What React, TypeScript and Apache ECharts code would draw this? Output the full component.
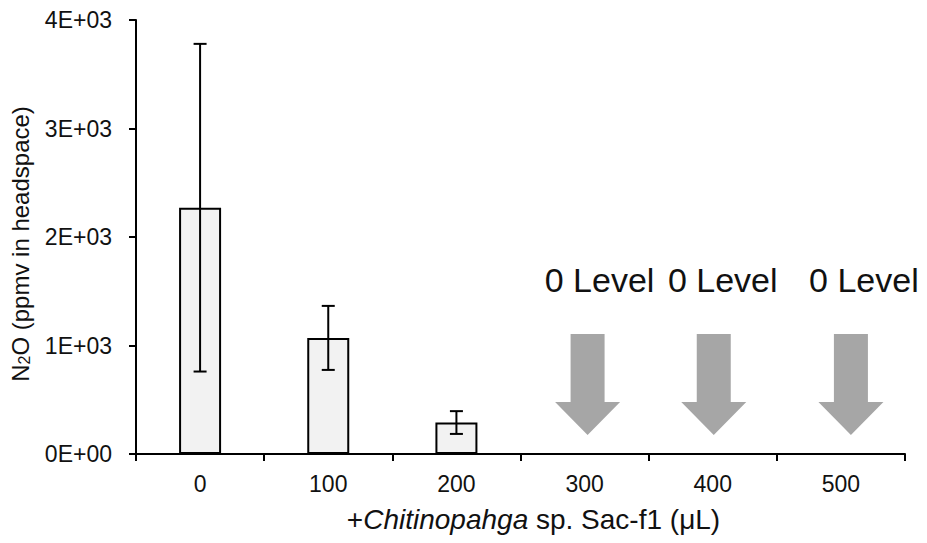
import React, { useEffect, useRef } from "react";
import * as echarts from "echarts";

const categories = ["0", "100", "200", "300", "400", "500"];
const meanN2O = [2270, 1070, 290, 0, 0, 0];
const errN2O = [1510, 295, 105, 0, 0, 0];
const zeroLevelCats = ["300", "400", "500"];
const zeroLabel = "0 Level";
const yMin = 0;
const yMax = 4000;
const yInterval = 1000;

const FONT = '"Liberation Sans", Arial, sans-serif';

function fmtY(v: number): string {
  if (v === 0) return "0E+00";
  const e = Math.floor(Math.log10(v));
  const m = v / Math.pow(10, e);
  return `${m}E+${String(e).padStart(2, "0")}`;
}

export default function App() {
  const ref = useRef<HTMLDivElement>(null);
  useEffect(() => {
    if (!ref.current) return;
    const chart = echarts.init(ref.current, null, { renderer: "svg" });
    const arrowDx = [3, 1, 10];
    const textDx = [15, 10, 23];
    chart.setOption({
      animation: false,
      backgroundColor: "#fff",
      grid: { left: 136, right: 22, top: 20, bottom: 89, containLabel: false, outerBoundsMode: "none" },
      xAxis: {
        type: "category",
        data: categories,
        boundaryGap: true,
        axisLine: { show: true, lineStyle: { color: "#000", width: 2 } },
        axisTick: { show: true, alignWithLabel: false, length: 7, lineStyle: { color: "#000", width: 2 } },
        axisLabel: { color: "#111", fontSize: 23, fontFamily: FONT, margin: 18 },
        name: "{n|+}{i|Chitinopahga}{n| sp. Sac-f1 (μL)}",
        nameLocation: "middle",
        nameGap: 51,
        nameTextStyle: {
          padding: [0, 0, 0, 26],
          rich: {
            n: { fontSize: 28, fontFamily: FONT, color: "#111" },
            i: { fontSize: 28, fontFamily: FONT, color: "#111", fontStyle: "italic" },
          },
        },
      },
      yAxis: {
        type: "value",
        min: yMin,
        max: yMax,
        interval: yInterval,
        splitLine: { show: false },
        axisLine: { show: true, lineStyle: { color: "#000", width: 2 } },
        axisTick: { show: true, length: 7, lineStyle: { color: "#000", width: 2 } },
        axisLabel: { color: "#111", fontSize: 23, fontFamily: FONT, margin: 24, formatter: fmtY },
        name: "N{sub|2}O (ppmv in headspace)",
        nameLocation: "middle",
        nameGap: 104,
        nameTextStyle: {
          fontSize: 24,
          fontFamily: FONT,
          color: "#111",
          padding: [0, 14, 0, 0],
          rich: {
            sub: { fontSize: 16, fontFamily: FONT, color: "#111", verticalAlign: "bottom", padding: [8, 0, 0, 0] },
          },
        },
      },
      series: [
        {
          type: "bar",
          data: meanN2O,
          barWidth: 42,
          itemStyle: { color: "#f2f2f2", borderColor: "#000", borderWidth: 2 },
          z: 2,
        },
        {
          type: "custom",
          z: 3,
          data: categories.map((c, i) => [i, meanN2O[i], errN2O[i]]),
          renderItem: (params: any, api: any) => {
            const err = api.value(2);
            if (!err) return null;
            const idx = api.value(0);
            const m = api.value(1);
            const hi = api.coord([idx, m + err]);
            const lo = api.coord([idx, m - err]);
            const cap = 6.5;
            const st = { stroke: "#000", lineWidth: 2 };
            return {
              type: "group",
              children: [
                { type: "line", shape: { x1: hi[0], y1: hi[1], x2: lo[0], y2: lo[1] }, style: st },
                { type: "line", shape: { x1: hi[0] - cap, y1: hi[1], x2: hi[0] + cap, y2: hi[1] }, style: st },
                { type: "line", shape: { x1: lo[0] - cap, y1: lo[1], x2: lo[0] + cap, y2: lo[1] }, style: st },
              ],
            };
          },
        },
        {
          type: "custom",
          z: 4,
          data: zeroLevelCats.map((c) => [c, 0]),
          renderItem: (params: any, api: any) => {
            const p = api.coord([api.value(0), api.value(1)]);
            const i = params.dataIndex;
            const cx = p[0] + arrowDx[i];
            const y0 = p[1];
            const sw = 17;
            const hw = 32.5;
            return {
              type: "group",
              children: [
                {
                  type: "polygon",
                  shape: {
                    points: [
                      [cx - sw, y0 - 120],
                      [cx + sw, y0 - 120],
                      [cx + sw, y0 - 52],
                      [cx + hw, y0 - 52],
                      [cx, y0 - 19],
                      [cx - hw, y0 - 52],
                      [cx - sw, y0 - 52],
                    ],
                  },
                  style: { fill: "#a6a6a6" },
                },
                {
                  type: "text",
                  style: {
                    text: zeroLabel,
                    x: p[0] + textDx[i],
                    y: y0 - 174,
                    align: "center",
                    verticalAlign: "middle",
                    fontSize: 34,
                    fontFamily: FONT,
                    fill: "#111",
                  },
                },
              ],
            };
          },
        },
      ],
    });
    return () => chart.dispose();
  }, []);
  return (
    <div
      ref={ref}
      style={{ position: "absolute", left: 0, top: 0, width: 927, height: 543, background: "#fff" }}
    />
  );
}
